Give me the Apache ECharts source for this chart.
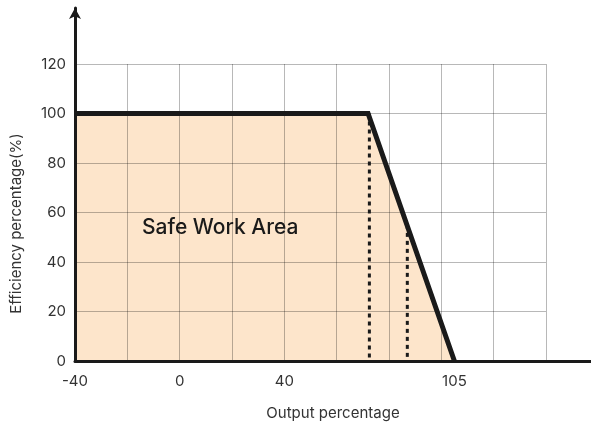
<!DOCTYPE html>
<html>
<head>
<meta charset="utf-8">
<script src="https://cdn.jsdelivr.net/npm/echarts@6/dist/echarts.min.js"></script>
<style>
html,body{margin:0;padding:0;background:#fff;}
#c{width:591px;height:426px;}
</style>
</head>
<body>
<div id="c"></div>
<script>
// ---- data ----
const boundaryX = [-40, 72, 105];
const boundaryY = [100, 100, 0];
const dash1X = [72.5, 72.5];
const dash1Y = [100, 0];
const dash2X = [87, 87];
const dash2Y = [55, 0];
const xLabelValues = [-40, 0, 40, 105];
const yTickValues = [0, 20, 40, 60, 80, 100, 120];
const areaLabelPos = [15.5, 54];
const areaLabelText = 'Safe Work Area';
const xName = 'Output percentage';
const yName = 'Efficiency percentage(%)';

const pair = (xs, ys) => xs.map((x, i) => [x, ys[i]]);

const FONT = 'Inter';
const chart = echarts.init(document.getElementById('c'), null, {renderer: 'canvas'});
const gridLine = {show: true, lineStyle: {color: 'rgba(0,0,0,0.28)', width: 1}};

chart.setOption({
  animation: false,
  textStyle: {fontFamily: FONT},
  grid: [
    {left: 75, top: 64, width: 471, height: 297, containLabel: false},
    {left: 75, top: 8, right: 0, bottom: 65, containLabel: false}
  ],
  xAxis: [
    {type: 'value', gridIndex: 0, min: -40, max: 140, interval: 20,
     axisLine: {show: false}, axisTick: {show: false}, axisLabel: {show: false},
     splitLine: gridLine},
    {type: 'value', gridIndex: 1, min: -40, max: 157.2, interval: 5,
     axisLine: {show: true, onZero: false, lineStyle: {color: '#1a1a1a', width: 3}},
     axisTick: {show: false}, splitLine: {show: false},
     axisLabel: {show: true, color: '#333', fontSize: 15, fontFamily: FONT, margin: 13,
       showMaxLabel: false,
       formatter: v => xLabelValues.indexOf(v) >= 0 ? String(v) : ''},
     name: xName, nameLocation: 'middle', nameGap: 45,
     nameTextStyle: {color: '#333', fontSize: 15, fontFamily: FONT}}
  ],
  yAxis: [
    {type: 'value', gridIndex: 0, min: 0, max: 120, interval: 20,
     axisLine: {show: false}, axisTick: {show: false},
     axisLabel: {show: true, color: '#333', fontSize: 15, fontFamily: FONT, margin: 9,
       formatter: v => yTickValues.indexOf(v) >= 0 ? String(v) : ''},
     splitLine: gridLine,
     name: yName, nameLocation: 'middle', nameGap: 51,
     nameTextStyle: {color: '#333', fontSize: 15, fontFamily: FONT, padding: [0, 22, 0, 0]}},
    {type: 'value', gridIndex: 1, min: 0, max: 142.6,
     axisLine: {show: true, onZero: false, symbol: ['none', 'arrow'], symbolSize: [9, 11],
       lineStyle: {color: '#1a1a1a', width: 3}},
     axisTick: {show: false}, axisLabel: {show: false}, splitLine: {show: false}}
  ],
  series: [
    {type: 'line', name: 'area', xAxisIndex: 0, yAxisIndex: 0, z: -1,
     data: pair(boundaryX, boundaryY), symbol: 'none',
     lineStyle: {width: 0, opacity: 0},
     areaStyle: {color: '#fde5cb', opacity: 1}},
    {type: 'line', name: 'dash1', xAxisIndex: 0, yAxisIndex: 0, z: 4,
     data: pair(dash1X, dash1Y), symbol: 'none',
     lineStyle: {color: '#1a1a1a', width: 3, type: [4, 4]}},
    {type: 'line', name: 'dash2', xAxisIndex: 0, yAxisIndex: 0, z: 4,
     data: pair(dash2X, dash2Y), symbol: 'none',
     lineStyle: {color: '#1a1a1a', width: 3, type: [4, 4]}},
    {type: 'line', name: 'boundary', xAxisIndex: 0, yAxisIndex: 0, z: 5,
     data: pair(boundaryX, boundaryY), symbol: 'none',
     lineStyle: {color: '#1a1a1a', width: 5, join: 'miter', cap: 'butt'}},
    {type: 'scatter', name: 'label', xAxisIndex: 0, yAxisIndex: 0, z: 6,
     data: [areaLabelPos], symbolSize: 0, itemStyle: {opacity: 1},
     label: {show: true, position: 'inside', formatter: areaLabelText, opacity: 1,
       color: '#1a1a1a', fontSize: 21, fontWeight: 500, fontFamily: FONT}}
  ]
});
</script>
</body>
</html>
